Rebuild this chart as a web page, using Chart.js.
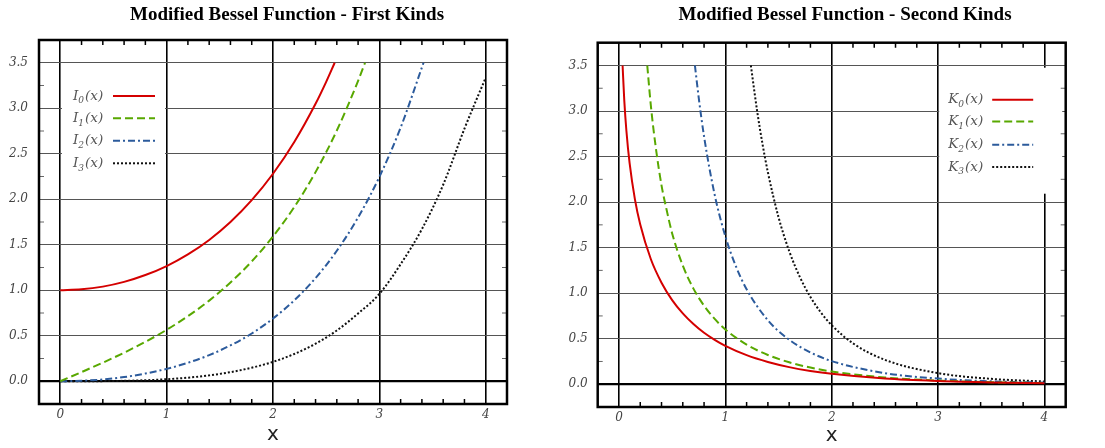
<!DOCTYPE html>
<html>
<head>
<meta charset="utf-8">
<script src="https://cdn.jsdelivr.net/npm/chart.js@4.4.1/dist/chart.umd.min.js"></script>
<style>
  html, body { margin: 0; padding: 0; background: #fff; width: 1105px; height: 448px; overflow: hidden; }
  .wrap { position: absolute; top: 0; }
</style>
</head>
<body>
<div class="wrap" style="left:0px"><canvas id="c1" width="574" height="448"></canvas></div>
<div class="wrap" style="left:560px"><canvas id="c2" width="570" height="448"></canvas></div>
<script>
// axis ticks
const xTicks = [0, 1, 2, 3, 4];
const yTicks = [0, 0.5, 1, 1.5, 2, 2.5, 3, 3.5];

// first kind, I_n(x)
const i0X = [0, 0.2, 0.4, 0.6, 0.8, 1.0, 1.2, 1.4, 1.6, 1.8, 2.0, 2.2, 2.4, 2.5, 2.58];
const i0Y = [1.000, 1.010, 1.040, 1.092, 1.167, 1.266, 1.394, 1.553, 1.750, 1.990, 2.280, 2.629, 3.049, 3.290, 3.500];
const i1X = [0, 0.2, 0.4, 0.6, 0.8, 1.0, 1.2, 1.4, 1.6, 1.8, 2.0, 2.2, 2.4, 2.6, 2.8, 2.865];
const i1Y = [0, 0.101, 0.204, 0.314, 0.433, 0.565, 0.715, 0.886, 1.085, 1.317, 1.591, 1.914, 2.298, 2.755, 3.301, 3.500];
const i2X = [0, 0.2, 0.4, 0.6, 0.8, 1.0, 1.2, 1.4, 1.6, 1.8, 2.0, 2.2, 2.4, 2.6, 2.8, 3.0, 3.2, 3.4, 3.415];
const i2Y = [0, 0.005, 0.020, 0.046, 0.085, 0.136, 0.203, 0.287, 0.394, 0.525, 0.689, 0.889, 1.134, 1.434, 1.800, 2.245, 2.788, 3.449, 3.500];
const i3X = [0, 0.2, 0.4, 0.6, 0.8, 1.0, 1.2, 1.4, 1.6, 1.8, 2.0, 2.2, 2.4, 2.6, 2.8, 3.0, 3.2, 3.4, 3.6, 3.8, 4.0];
const i3Y = [0, 0.0002, 0.0013, 0.0046, 0.0111, 0.0222, 0.0394, 0.0646, 0.1001, 0.1488, 0.2127, 0.2999, 0.4124, 0.5578, 0.7442, 0.9598, 1.2867, 1.6719, 2.1594, 2.7755, 3.3373];

// second kind, K_n(x)
const k0X = [0.034, 0.05, 0.07, 0.1, 0.15, 0.2, 0.3, 0.4, 0.5, 0.6, 0.7, 0.8, 0.9, 1.0, 1.2, 1.4, 1.6, 1.8, 2.0, 2.5, 3.0, 3.5, 4.0];
const k0Y = [3.5, 3.114, 2.78, 2.427, 2.030, 1.753, 1.372, 1.115, 0.924, 0.778, 0.661, 0.565, 0.487, 0.421, 0.319, 0.244, 0.188, 0.146, 0.114, 0.062, 0.035, 0.020, 0.011];
const k1X = [0.266, 0.3, 0.35, 0.4, 0.45, 0.5, 0.6, 0.7, 0.8, 0.9, 1.0, 1.2, 1.4, 1.6, 1.8, 2.0, 2.5, 3.0, 3.5, 4.0];
const k1Y = [3.5, 3.056, 2.566, 2.184, 1.904, 1.656, 1.303, 1.050, 0.862, 0.717, 0.602, 0.435, 0.321, 0.241, 0.183, 0.140, 0.074, 0.040, 0.022, 0.0125];
const k2X = [0.714, 0.75, 0.8, 0.9, 1.0, 1.1, 1.2, 1.4, 1.6, 1.8, 2.0, 2.5, 3.0, 3.5, 4.0];
const k2Y = [3.5, 3.144, 2.720, 2.079, 1.625, 1.293, 1.043, 0.702, 0.489, 0.349, 0.254, 0.122, 0.062, 0.032, 0.0175];
const k3X = [1.24, 1.3, 1.35, 1.4, 1.5, 1.6, 1.7, 1.8, 1.9, 2.0, 2.2, 2.5, 3.0, 3.5, 4.0];
const k3Y = [3.5, 2.992, 2.634, 2.327, 1.834, 1.463, 1.179, 0.958, 0.785, 0.648, 0.449, 0.268, 0.122, 0.059, 0.030];

const orders = ['0', '1', '2', '3'];
const colors = ['#d40000', '#58a800', '#2c5b9c', '#111111'];
const dashes = [[], [8, 4], [7, 3, 2, 3], [2, 2]];

const pts = (xs, ys) => xs.map((x, i) => ({ x: x, y: ys[i] }));

function makeSets(sym, xsList, ysList) {
  return xsList.map((xs, i) => ({
    label: sym + orders[i] + '(x)',
    sym: sym,
    ord: orders[i],
    data: pts(xs, ysList[i]),
    borderColor: colors[i],
    borderWidth: 2,
    borderDash: dashes[i],
    pointRadius: 0,
    cubicInterpolationMode: 'monotone',
    fill: false
  }));
}

// white legend box drawn over the grid, entries with subscripts
const boxLegend = {
  id: 'boxLegend',
  beforeDatasetsDraw(chart, args, opts) {
    const { ctx, chartArea } = chart;
    const left = chartArea.left + opts.dx, top = chartArea.top + opts.dy;
    ctx.save();
    ctx.fillStyle = '#fff';
    ctx.fillRect(left, top, opts.w, opts.h);
    chart.data.datasets.forEach((ds, i) => {
      const y = top + opts.rows[i];
      let x = left + opts.textX;
      ctx.fillStyle = '#555';
      ctx.textBaseline = 'middle';
      ctx.textAlign = 'left';
      ctx.font = 'italic 13.5px "DejaVu Serif"';
      ctx.fillText(ds.sym, x, y);
      x += ctx.measureText(ds.sym).width;
      ctx.font = 'italic 9px "DejaVu Serif"';
      ctx.fillText(ds.ord, x, y + 5);
      x += ctx.measureText(ds.ord).width + 1;
      ctx.font = 'italic 13.5px "DejaVu Serif"';
      ctx.fillText('(x)', x, y);
      ctx.strokeStyle = ds.borderColor;
      ctx.lineWidth = 2;
      ctx.setLineDash(ds.borderDash);
      ctx.beginPath();
      ctx.moveTo(left + opts.lineX0, y);
      ctx.lineTo(left + opts.lineX1, y);
      ctx.stroke();
      ctx.setLineDash([]);
    });
    ctx.restore();
  }
};

// inner minor ticks and the frame
const frame = {
  id: 'frame',
  afterDraw(chart) {
    const { ctx, chartArea: a, scales } = chart;
    const xs = scales.x, ys = scales.y;
    ctx.save();
    ctx.strokeStyle = '#000';
    ctx.lineWidth = 1.5;
    ctx.beginPath();
    for (let v = 0.2; v < 4; v += 0.2) {
      if (Math.abs(v - Math.round(v)) < 1e-6) continue;
      const px = xs.getPixelForValue(v);
      ctx.moveTo(px, a.bottom); ctx.lineTo(px, a.bottom - 5);
      ctx.moveTo(px, a.top); ctx.lineTo(px, a.top + 5);
    }
    ctx.stroke();
    ctx.strokeStyle = '#666';
    ctx.lineWidth = 1;
    ctx.beginPath();
    for (let v = 0.25; v < ys.max; v += 0.5) {
      const py = ys.getPixelForValue(v);
      ctx.moveTo(a.left, py); ctx.lineTo(a.left + 5, py);
      ctx.moveTo(a.right, py); ctx.lineTo(a.right - 5, py);
    }
    ctx.stroke();
    ctx.strokeStyle = '#000';
    ctx.lineWidth = 2.5;
    ctx.strokeRect(a.left, a.top, a.right - a.left, a.bottom - a.top);
    ctx.restore();
  }
};

function makeChart(id, title, sets, lay, legendOpts) {
  return new Chart(document.getElementById(id), {
    type: 'line',
    data: { datasets: sets },
    options: {
      responsive: false,
      animation: false,
      layout: { padding: 0 },
      plugins: {
        legend: { display: false },
        tooltip: { enabled: false },
        title: {
          display: true,
          text: title,
          color: '#000',
          font: { family: '"Liberation Serif"', size: 19, weight: 'bold', lineHeight: 1.2 },
          padding: { top: 4, bottom: lay.titleBottom }
        },
        boxLegend: legendOpts
      },
      scales: {
        x: {
          type: 'linear',
          min: -0.2,
          max: 4.2,
          afterBuildTicks: s => { s.ticks = xTicks.map(v => ({ value: v })); },
          afterFit: s => { s.height = lay.xHeight; },
          grid: { color: '#000', lineWidth: 1.6, drawTicks: false },
          border: { display: false },
          ticks: {
            padding: 4,
            color: '#444',
            font: { family: '"DejaVu Serif"', size: 12, style: 'italic' },
            callback: v => String(v)
          },
          title: {
            display: true,
            text: 'x',
            color: '#222',
            font: { family: '"DejaVu Sans"', size: 20, lineHeight: 1.2 },
            padding: { top: 0, bottom: lay.xTitleBottom }
          }
        },
        y: {
          type: 'linear',
          min: -0.25,
          max: 3.75,
          afterBuildTicks: s => { s.ticks = yTicks.map(v => ({ value: v })); },
          afterFit: s => { s.width = lay.yWidth; },
          grid: {
            drawTicks: false,
            color: c => (c.tick && c.tick.value === 0 ? '#000' : '#555'),
            lineWidth: c => (c.tick && c.tick.value === 0 ? 2.2 : 1)
          },
          border: { display: false },
          ticks: {
            padding: lay.yPad,
            color: '#444',
            font: { family: '"DejaVu Serif"', size: 12, style: 'italic' },
            callback: v => Number(v).toFixed(1)
          }
        },
        yr: {
          type: 'linear',
          position: 'right',
          display: true,
          grid: { display: false, drawOnChartArea: false, drawTicks: false },
          border: { display: false },
          ticks: { display: false },
          afterFit: s => { s.width = lay.rightWidth; }
        }
      }
    },
    plugins: [boxLegend, frame]
  });
}

makeChart('c1', 'Modified Bessel Function - First Kinds',
  makeSets('I', [i0X, i1X, i2X, i3X], [i0Y, i1Y, i2Y, i3Y]),
  { titleBottom: 13.2, xHeight: 44, xTitleBottom: 1, yWidth: 39, yPad: 11, rightWidth: 67 },
  { dx: 23, dy: 24, w: 103, h: 127, rows: [32, 54.3, 76.7, 99.3], textX: 11, lineX0: 51, lineX1: 93 });

makeChart('c2', 'Modified Bessel Function - Second Kinds',
  makeSets('K', [k0X, k1X, k2X, k3X], [k0Y, k1Y, k2Y, k3Y]),
  { titleBottom: 15.9, xHeight: 41, xTitleBottom: 0, yWidth: 37.7, yPad: 10, rightWidth: 64.3 },
  { dx: 341.5, dy: 25, w: 123, h: 126, rows: [32, 53.7, 77, 99.3], textX: 9, lineX0: 53, lineX1: 94 });
</script>
</body>
</html>
